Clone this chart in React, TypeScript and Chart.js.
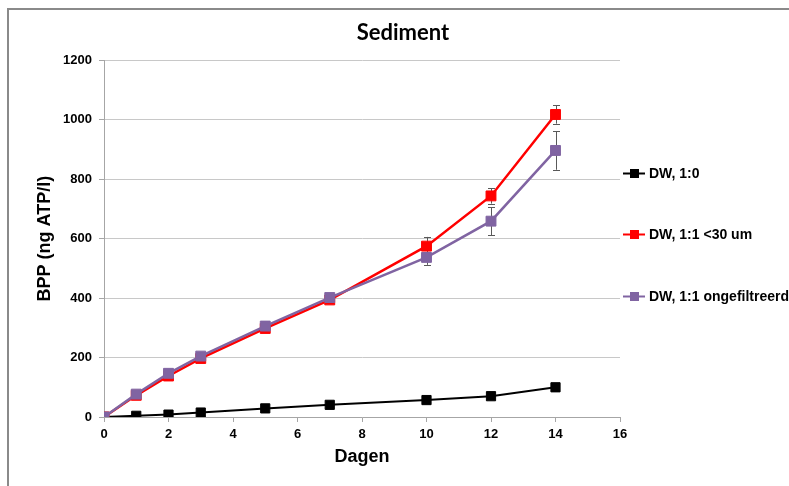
import React, { useEffect, useRef } from "react";
import { Chart, registerables } from "chart.js";

Chart.register(...registerables);

// ---- data ----
const days = [0, 1, 2, 3, 5, 7, 10, 12, 14];
const seriesLabels = ["DW, 1:0", "DW, 1:1 <30 um", "DW, 1:1 ongefiltreerd"];
const seriesColors = ["#000000", "#ff0000", "#8064a2"];
const dw10 = [0, 4, 8, 15, 29, 41, 57, 70, 100];
const dw11Small = [0, 73, 138, 197, 298, 394, 575, 744, 1018];
const dw11Unfiltered = [0, 77, 147, 205, 306, 402, 537, 659, 897];
const err10 = [0, 0, 0, 0, 0, 0, 0, 0, 0];
const err11Small = [0, 0, 0, 0, 0, 0, 31, 26, 31];
const err11Unfiltered = [0, 0, 0, 0, 0, 0, 25, 47, 65];
const xTicks = [0, 2, 4, 6, 8, 10, 12, 14, 16];
const yTicks = [0, 200, 400, 600, 800, 1000, 1200];
const titleText = "Sediment";
const xTitle = "Dagen";
const yTitle = "BPP (ng ATP/l)";

const FONT = "'Liberation Sans', Arial, sans-serif";

const framePlugin = {
  id: "frame",
  beforeDraw(chart: any) {
    const ctx = chart.ctx;
    ctx.save();
    ctx.fillStyle = "#ffffff";
    ctx.fillRect(0, 0, chart.width, chart.height);
    ctx.strokeStyle = "#8a8a8a";
    ctx.lineWidth = 2;
    ctx.beginPath();
    ctx.moveTo(8, chart.height + 5);
    ctx.lineTo(8, 9);
    ctx.lineTo(chart.width + 5, 9);
    ctx.stroke();
    ctx.restore();
  },
};

const errorBarPlugin = {
  id: "errorBars",
  beforeDatasetsDraw(chart: any) {
    const ctx = chart.ctx;
    const xs = chart.scales.x;
    const ys = chart.scales.y;
    ctx.save();
    ctx.strokeStyle = "#595959";
    ctx.lineWidth = 1;
    chart.data.datasets.forEach((ds: any) => {
      const errs: number[] = ds.errors || [];
      ds.data.forEach((pt: any, i: number) => {
        const e = errs[i] || 0;
        if (e <= 0) return;
        const x = Math.round(xs.getPixelForValue(pt.x)) + 0.5;
        const y1 = ys.getPixelForValue(pt.y + e);
        const y2 = ys.getPixelForValue(pt.y - e);
        ctx.beginPath();
        ctx.moveTo(x, y1);
        ctx.lineTo(x, y2);
        ctx.moveTo(x - 3.5, Math.round(y1) + 0.5);
        ctx.lineTo(x + 3.5, Math.round(y1) + 0.5);
        ctx.moveTo(x - 3.5, Math.round(y2) + 0.5);
        ctx.lineTo(x + 3.5, Math.round(y2) + 0.5);
        ctx.stroke();
      });
    });
    ctx.restore();
  },
};

const legendPlugin = {
  id: "sideLegend",
  afterDraw(chart: any) {
    const ctx = chart.ctx;
    const area = chart.chartArea;
    const midY = (area.top + area.bottom) / 2 - 4.5;
    const gap = 61.5;
    const x0 = area.right + 3;
    ctx.save();
    chart.data.datasets.forEach((ds: any, i: number) => {
      const y = Math.round(midY + (i - 1) * gap) + 0.5;
      ctx.strokeStyle = ds.borderColor;
      ctx.lineWidth = 2;
      ctx.beginPath();
      ctx.moveTo(x0, y);
      ctx.lineTo(x0 + 22, y);
      ctx.stroke();
      ctx.fillStyle = ds.borderColor;
      ctx.fillRect(x0 + 7, y - 4.5, 9, 9);
      ctx.fillStyle = "#000000";
      ctx.font = `bold 14px ${FONT}`;
      ctx.textBaseline = "middle";
      ctx.textAlign = "left";
      ctx.fillText(ds.label, x0 + 26, y + 1);
    });
    ctx.restore();
  },
};

function makeSeries(values: number[]) {
  return values.map((v, i) => ({ x: days[i], y: v }));
}

export default function App() {
  const canvasRef = useRef<HTMLCanvasElement | null>(null);

  useEffect(() => {
    document.body.style.margin = "0";
    const canvas = canvasRef.current;
    if (!canvas) return;
    const allValues = [dw10, dw11Small, dw11Unfiltered];
    const allErrors = [err10, err11Small, err11Unfiltered];
    const orders = [2, 1, 0];
    const widths = [2, 2.5, 2.5];
    const radii = [6.5, 7, 7];
    const chart = new Chart(canvas, {
      type: "line",
      data: {
        datasets: allValues.map((vals, i) => ({
          label: seriesLabels[i],
          data: makeSeries(vals),
          errors: allErrors[i],
          borderColor: seriesColors[i],
          backgroundColor: seriesColors[i],
          pointBackgroundColor: seriesColors[i],
          pointBorderColor: seriesColors[i],
          pointBorderWidth: 1,
          pointStyle: "rect",
          pointRadius: radii[i],
          borderWidth: widths[i],
          tension: 0,
          fill: false,
          order: orders[i],
        })) as any,
      },
      options: {
        responsive: false,
        animation: false,
        layout: { padding: { left: 17, top: 8, right: 0, bottom: 0 } },
        plugins: {
          legend: { display: false },
          tooltip: { enabled: false },
          title: {
            display: true,
            text: titleText,
            color: "#000000",
            font: { family: "Lato, 'Liberation Sans', sans-serif", weight: "bold", size: 22 },
            padding: { top: 12, bottom: 14 },
          },
        },
        scales: {
          x: {
            type: "linear",
            min: 0,
            max: 16,
            afterBuildTicks: (s: any) => {
              s.ticks = xTicks.map((v) => ({ value: v }));
            },
            afterFit: (s: any) => {
              s.height = 69;
            },
            grid: {
              drawOnChartArea: false,
              drawTicks: true,
              tickLength: 5,
              tickColor: "#a6a6a6",
            },
            border: { color: "#a6a6a6", width: 1 },
            ticks: {
              color: "#000000",
              font: { family: FONT, weight: "bold", size: 13 },
              padding: 5,
              maxRotation: 0,
              callback: (v: any) => String(v),
            },
            title: {
              display: true,
              text: xTitle,
              color: "#000000",
              font: { family: FONT, weight: "bold", size: 18 },
              padding: { top: 0, bottom: 18 },
            },
          },
          y: {
            type: "linear",
            position: "left",
            min: 0,
            max: 1200,
            afterBuildTicks: (s: any) => {
              s.ticks = yTicks.map((v) => ({ value: v }));
            },
            afterFit: (s: any) => {
              s.width = 87;
            },
            grid: {
              color: "#c8c8c8",
              drawTicks: true,
              tickLength: 5,
              tickColor: "#a6a6a6",
            },
            border: { color: "#a6a6a6", width: 1 },
            ticks: {
              color: "#000000",
              font: { family: FONT, weight: "bold", size: 13 },
              padding: 7,
              callback: (v: any) => String(v),
            },
            title: {
              display: true,
              text: yTitle,
              color: "#000000",
              font: { family: FONT, weight: "bold", size: 18 },
              padding: { top: 17, bottom: 0 },
            },
          },
          yRight: {
            type: "linear",
            position: "right",
            display: true,
            grid: { display: false, drawTicks: false },
            border: { display: false },
            ticks: { display: false },
            afterFit: (s: any) => {
              s.width = 169;
            },
          },
        },
      } as any,
      plugins: [framePlugin, errorBarPlugin, legendPlugin],
    });
    return () => chart.destroy();
  }, []);

  return (
    <div style={{ width: 789, height: 486 }}>
      <canvas ref={canvasRef} width={789} height={486} style={{ display: "block" }} />
    </div>
  );
}
